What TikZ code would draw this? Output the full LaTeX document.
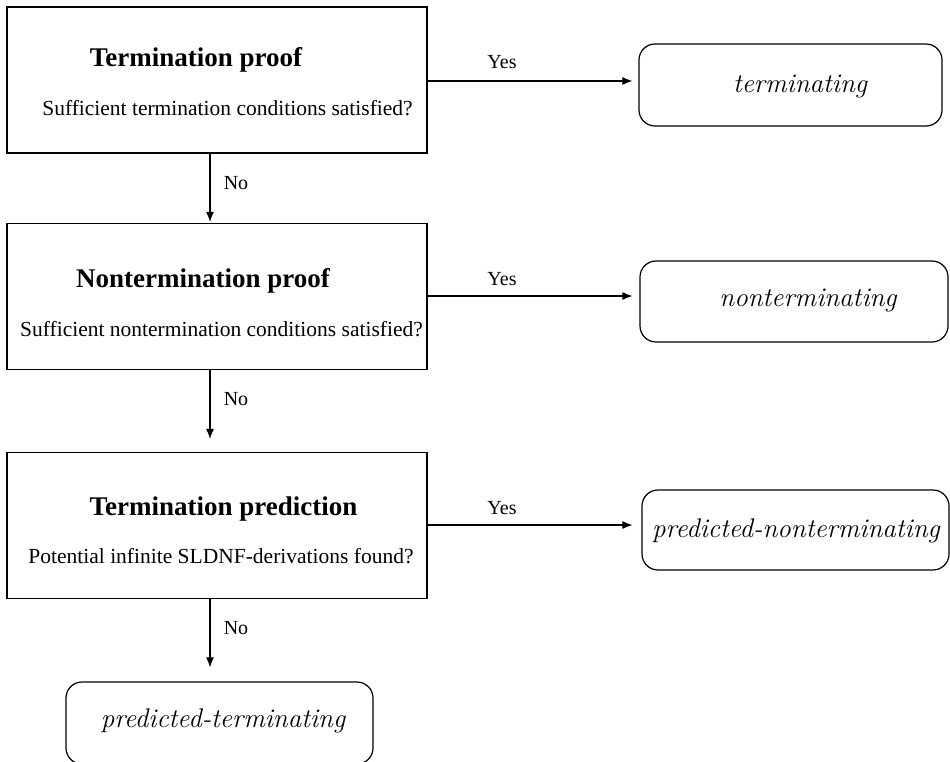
\documentclass[tikz,border=0pt]{standalone}
\usepackage{fontspec}
\setmainfont{Liberation Serif}
\newfontfamily\lmfont{Latin Modern Roman}
\usetikzlibrary{arrows.meta,calc}
\tikzset{
  procbox/.style={draw, line width=1.2pt, rectangle, minimum width=420pt, minimum height=146pt, inner sep=0pt},
  resbox/.style={draw, line width=1.2pt, rectangle, rounded corners=16pt, inner sep=0pt},
  titletext/.style={font=\fontsize{27}{31}\selectfont\bfseries, inner sep=0pt, anchor=base},
  subtext/.style={font=\fontsize{21.5}{25}\selectfont, inner sep=0pt, anchor=base},
  labeltext/.style={font=\fontsize{20}{24}\selectfont, inner sep=0pt},
  restext/.style={font=\lmfont\itshape\fontsize{27}{31}\selectfont, inner sep=0pt},
  arr/.style={-{Latex[length=10pt,width=8pt]}, line width=1.1pt}
}
\begin{document}
\begin{tikzpicture}[x=1pt,y=-1pt]
\useasboundingbox (0,0) rectangle (950,762);
% process boxes
\node[procbox] (b1) at (217,80) {};
\node[procbox] (b2) at (217,296.5) {};
\node[procbox] (b3) at (217,525.5) {};
\node[titletext] (t1) at (196,67) {Termination proof};
\node[subtext] (s1) at (227.5,116) {Sufficient termination conditions satisfied?};
\node[titletext] (t2) at (203,287) {Nontermination proof};
\node[subtext] (s2) at (221.5,336) {Sufficient nontermination conditions satisfied?};
\node[titletext] (t3) at (223.5,515) {Termination prediction};
\node[subtext] (s3) at (221,563) {Potential infinite SLDNF-derivations found?};
% result boxes
\node[resbox, minimum width=303pt, minimum height=82pt] (rT) at (790.5,85) {};
\node[resbox, minimum width=308pt, minimum height=81pt] (rN) at (794,301.5) {};
\node[resbox, minimum width=307pt, minimum height=80pt] (rP) at (795.5,530) {};
\node[resbox, minimum width=307pt, minimum height=82pt] (rB) at (219.5,723) {};
\node[restext] (T) at (800,86) {terminating};
\node[restext] (N) at (808,300) {nonterminating};
\node[restext] (P) at (796,531) {predicted-nonterminating};
\node[restext] (B) at (223,721) {predicted-terminating};
% horizontal arrows
\draw[arr, shorten >=6pt] (b1.east |- 0,81) -- (rT.west |- 0,81);
\draw[arr, shorten >=7pt] (b2.east |- 0,296) -- (rN.west |- 0,296);
\draw[arr, shorten >=9pt] (b3.east |- 0,525) -- (rP.west |- 0,525);
\node[labeltext] (y1) at (502,62) {Yes};
\node[labeltext] (y2) at (502,279) {Yes};
\node[labeltext] (y3) at (502,508) {Yes};
% vertical arrows
\draw[arr, shorten >=1pt] (b1.south -| 210,0) -- (b2.north -| 210,0);
\draw[arr, shorten >=13pt] (b2.south -| 210,0) -- (b3.north -| 210,0);
\draw[arr, shorten >=14pt] (b3.south -| 210,0) -- (rB.north -| 210,0);
\node[labeltext] (n1) at (236,183) {No};
\node[labeltext] (n2) at (236,399) {No};
\node[labeltext] (n3) at (236,628) {No};
\end{tikzpicture}
\end{document}
